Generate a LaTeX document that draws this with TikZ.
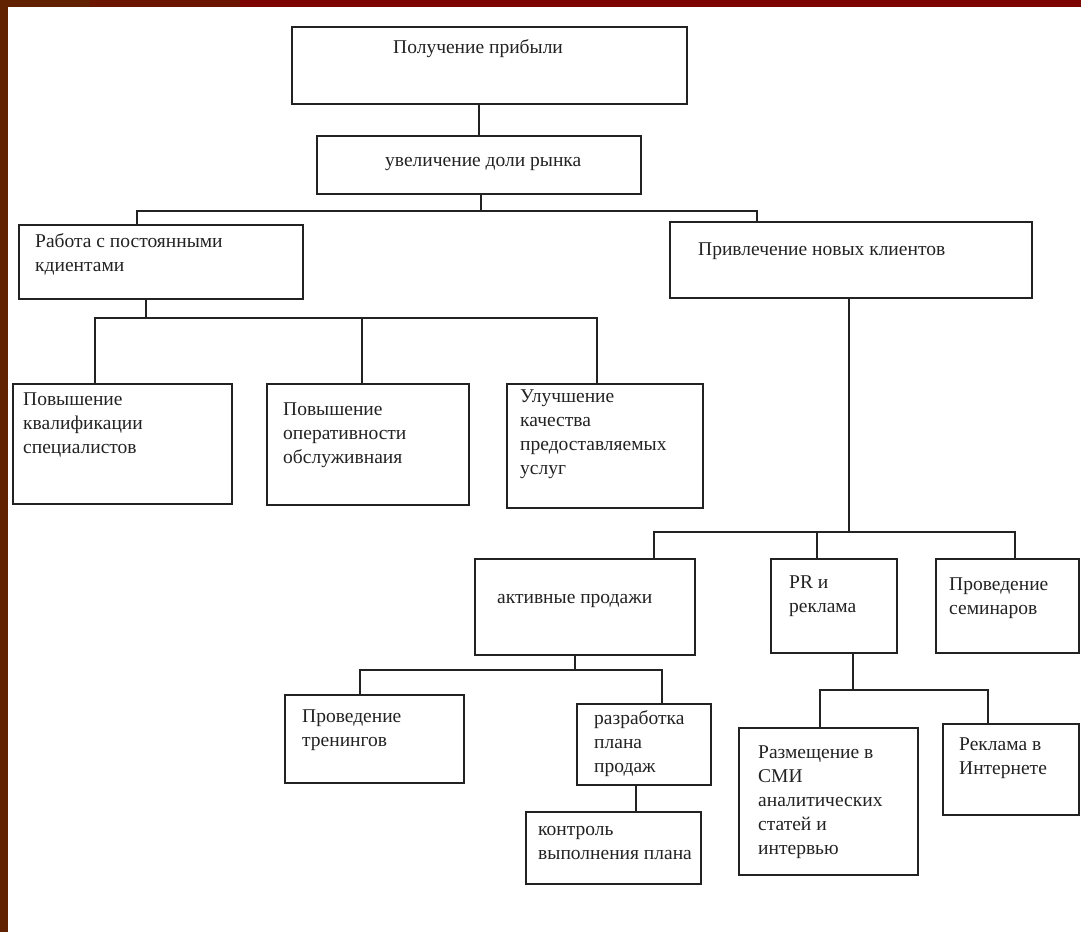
\documentclass[tikz,border=0pt]{standalone}
\usepackage{fontspec}
\setmainfont{Liberation Serif}
\usepackage{xcolor}
\usepackage{tikz}
\usetikzlibrary{positioning}
\definecolor{barbrown}{RGB}{96,34,0}
\definecolor{barmaroon}{RGB}{126,4,0}
\definecolor{inkgray}{RGB}{34,34,34}

\begin{document}
\begin{tikzpicture}[
      x=1pt, y=-1pt,
      type-box/.style={rectangle, draw=inkgray, line width=1.5pt, inner sep=0pt, anchor=north west},
      type-text/.style={inner sep=0pt, align=left, text=inkgray, font=\fontsize{19.5}{24}\selectfont, execute at begin node=\strut},
      type-link/.style={draw=inkgray, line width=1.5pt}
    ]
      \useasboundingbox (0,0) rectangle (1081,932);
      \fill[barmaroon] (0,0) rectangle (1081,7);
      \fill[barbrown!60!barmaroon] (0,0) rectangle (240,7);
      \fill[barbrown] (0,0) rectangle (90,7);
      \fill[barbrown] (0,0) rectangle (8,932);

      \node[type-box, minimum width=395pt, minimum height=77pt] (profit) at (291,26) {};
      \node[type-box, minimum width=324pt, minimum height=58pt] (share) at (316,135) {};
      \node[type-box, minimum width=284pt, minimum height=74pt] (regular) at (18,224) {};
      \node[type-box, minimum width=362pt, minimum height=76pt] (newcl) at (669,221) {};
      \node[type-box, minimum width=219pt, minimum height=120pt] (skills) at (12,383) {};
      \node[type-box, minimum width=202pt, minimum height=121pt] (speed) at (266,383) {};
      \node[type-box, minimum width=196pt, minimum height=124pt] (quality) at (506,383) {};
      \node[type-box, minimum width=220pt, minimum height=96pt] (active) at (474,558) {};
      \node[type-box, minimum width=126pt, minimum height=94pt] (pr) at (770,558) {};
      \node[type-box, minimum width=143pt, minimum height=94pt] (seminars) at (935,558) {};
      \node[type-box, minimum width=179pt, minimum height=88pt] (trainings) at (284,694) {};
      \node[type-box, minimum width=134pt, minimum height=81pt] (plan) at (576,703) {};
      \node[type-box, minimum width=175pt, minimum height=72pt] (control) at (525,811) {};
      \node[type-box, minimum width=179pt, minimum height=147pt] (media) at (738,727) {};
      \node[type-box, minimum width=136pt, minimum height=91pt] (internet) at (942,723) {};

      \node[type-text, below right=10pt and 102pt of profit.north west] (profit-t) {Получение прибыли};
      \node[type-text, below right=14pt and 69pt of share.north west] (share-t) {увеличение доли рынка};
      \node[type-text, below right=9pt and 17pt of regular.north west] (regular-t) {Работа с постоянными\\кдиентами};
      \node[type-text, below right=17pt and 29pt of newcl.north west] (newcl-t) {Привлечение новых клиентов};
      \node[type-text, below right=10pt and 11pt of skills.north west] (skills-t) {Повышение\\квалификации\\специалистов};
      \node[type-text, below right=20pt and 17pt of speed.north west] (speed-t) {Повышение\\оперативности\\обслуживнаия};
      \node[type-text, below right=7pt and 14pt of quality.north west] (quality-t) {Улучшение\\качества\\предоставляемых\\услуг};
      \node[type-text, below right=28pt and 23pt of active.north west] (active-t) {активные продажи};
      \node[type-text, below right=18pt and 19pt of pr.north west] (pr-t) {PR и\\реклама};
      \node[type-text, below right=20pt and 14pt of seminars.north west] (seminars-t) {Проведение\\семинаров};
      \node[type-text, below right=16pt and 18pt of trainings.north west] (trainings-t) {Проведение\\тренингов};
      \node[type-text, below right=7pt and 18pt of plan.north west] (plan-t) {разработка\\плана\\продаж};
      \node[type-text, below right=15pt and 13pt of control.north west] (control-t) {контроль\\выполнения плана};
      \node[type-text, below right=19pt and 20pt of media.north west] (media-t) {Размещение в\\СМИ\\аналитических\\статей и\\интервью};
      \node[type-text, below right=15pt and 17pt of internet.north west] (internet-t) {Реклама в\\Интернете};

      \coordinate (bus-top) at (481,211);
      \coordinate (bus-top-l) at (137,211);
      \coordinate (bus-top-r) at (757,211);
      \coordinate (bus-reg) at (146,318);
      \coordinate (bus-reg-l) at (95,318);
      \coordinate (bus-reg-m) at (362,318);
      \coordinate (bus-reg-r) at (597,318);
      \coordinate (bus-new) at (849,532);
      \coordinate (bus-new-l) at (654,532);
      \coordinate (bus-new-m) at (817,532);
      \coordinate (bus-new-r) at (1015,532);
      \coordinate (bus-act) at (575,670);
      \coordinate (bus-act-l) at (360,670);
      \coordinate (bus-act-r) at (662,670);
      \coordinate (bus-pr) at (853,690);
      \coordinate (bus-pr-l) at (820,690);
      \coordinate (bus-pr-r) at (988,690);
      \coordinate (link-plan) at (636,797);

      \draw[type-link] (share.north) -- (share.north |- profit.south);
      \draw[type-link] (bus-top |- share.south) -- (bus-top);
      \draw[type-link] (bus-top-l |- regular.north) -- (bus-top-l) -- (bus-top-r) -- (bus-top-r |- newcl.north);
      \draw[type-link] (bus-reg |- regular.south) -- (bus-reg);
      \draw[type-link] (bus-reg-l |- skills.north) -- (bus-reg-l) -- (bus-reg-r) -- (bus-reg-r |- quality.north);
      \draw[type-link] (bus-reg-m) -- (bus-reg-m |- speed.north);
      \draw[type-link] (bus-new |- newcl.south) -- (bus-new);
      \draw[type-link] (bus-new-l |- active.north) -- (bus-new-l) -- (bus-new-r) -- (bus-new-r |- seminars.north);
      \draw[type-link] (bus-new-m) -- (bus-new-m |- pr.north);
      \draw[type-link] (bus-act |- active.south) -- (bus-act);
      \draw[type-link] (bus-act-l |- trainings.north) -- (bus-act-l) -- (bus-act-r) -- (bus-act-r |- plan.north);
      \draw[type-link] (link-plan |- plan.south) -- (link-plan |- control.north);
      \draw[type-link] (bus-pr |- pr.south) -- (bus-pr);
      \draw[type-link] (bus-pr-l |- media.north) -- (bus-pr-l) -- (bus-pr-r) -- (bus-pr-r |- internet.north);
    \end{tikzpicture}
\end{document}
